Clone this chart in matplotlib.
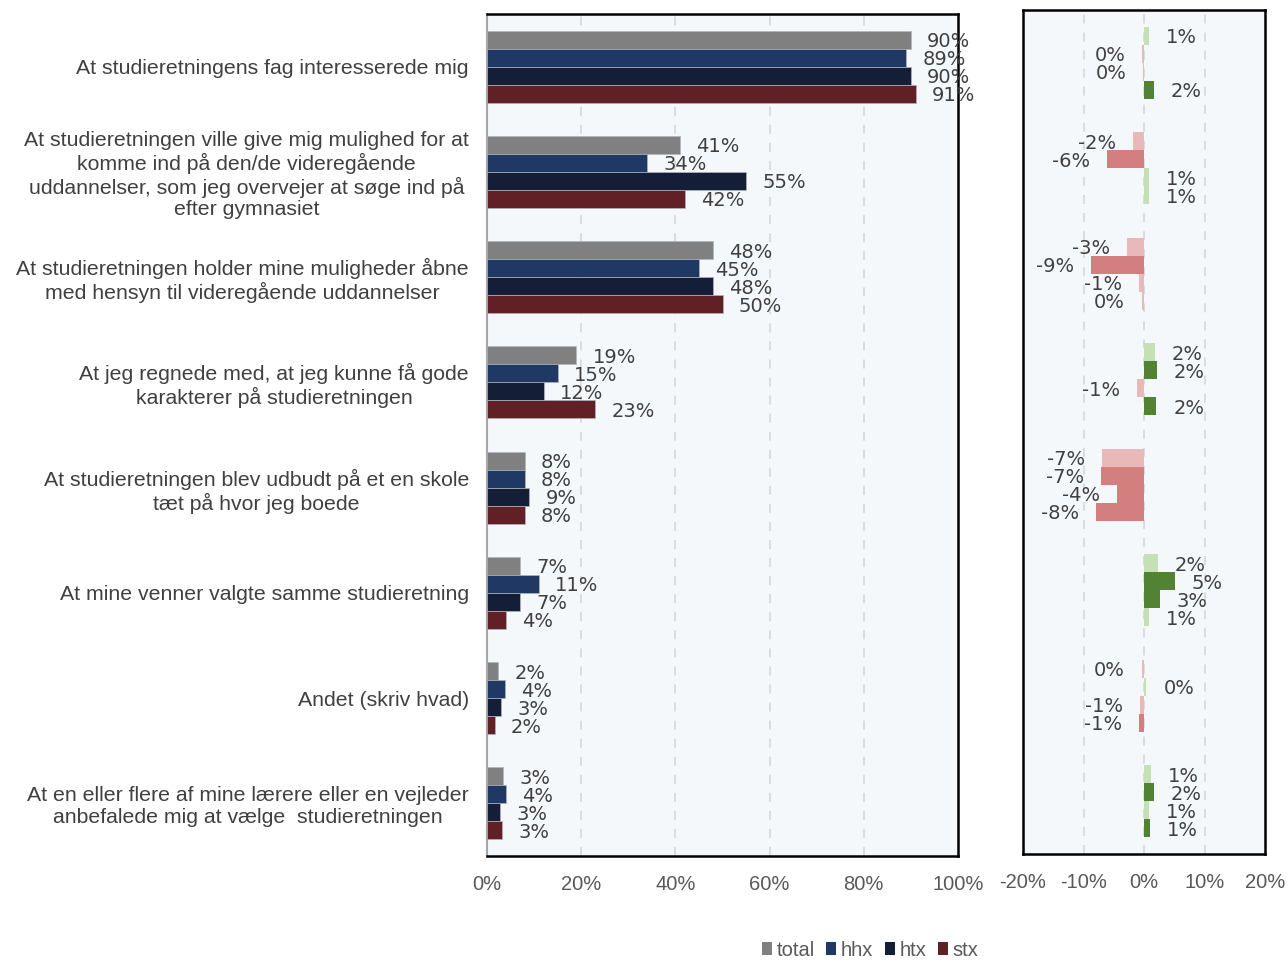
import matplotlib
matplotlib.use("Agg")
import matplotlib.pyplot as plt
from matplotlib.patches import Patch

# ---- data -------------------------------------------------------------
categories = [
    "At studieretningens fag interesserede mig",
    "At studieretningen ville give mig mulighed for at\nkomme ind på den/de videregående\nuddannelser, som jeg overvejer at søge ind på\nefter gymnasiet",
    "At studieretningen holder mine muligheder åbne\nmed hensyn til videregående uddannelser",
    "At jeg regnede med, at jeg kunne få gode\nkarakterer på studieretningen",
    "At studieretningen blev udbudt på et en skole\ntæt på hvor jeg boede",
    "At mine venner valgte samme studieretning",
    "Andet (skriv hvad)",
    "At en eller flere af mine lærere eller en vejleder\nanbefalede mig at vælge  studieretningen",
]
series = ["total", "hhx", "htx", "stx"]

total = [90, 41, 48, 19, 8, 7, 2.4, 3.4]
hhx = [89, 34, 45, 15, 8, 11, 3.8, 4.0]
htx = [90, 55, 48, 12, 9, 7, 3.0, 2.8]
stx = [91, 42, 50, 23, 8, 4, 1.7, 3.2]

# change in percentage points, one row per bar within a group
diff_1 = [0.8, -1.8, -2.8, 1.8, -7.0, 2.3, -0.4, 1.2]
diff_2 = [-0.3, -6.1, -8.8, 2.1, -7.1, 5.1, 0.4, 1.6]
diff_3 = [-0.1, 0.8, -0.8, -1.2, -4.4, 2.6, -0.7, 0.8]
diff_4 = [1.65, 0.8, -0.4, 2.0, -7.9, 0.8, -0.8, 1.0]

# significant changes are shown in the strong colour
sig_1 = [False, False, False, False, False, False, False, False]
sig_2 = [False, True, True, True, True, True, False, True]
sig_3 = [False, False, False, False, True, True, False, False]
sig_4 = [True, False, False, True, True, False, True, True]

left_ticks = [0, 20, 40, 60, 80, 100]
right_ticks = [-20, -10, 0, 10, 20]

# ---- style ------------------------------------------------------------
series_colors = ["#808080", "#203864", "#141E36", "#612026"]
pos_light, pos_dark = "#C5E0B4", "#548235"
neg_light, neg_dark = "#E8B9B8", "#D47F7F"
bg = "#F5F8FB"
grid_c = "#D9D9D9"
label_c = "#404040"
tick_c = "#595959"
value_size = 14

fig = plt.figure(figsize=(12.88, 9.61), dpi=100)
ax = fig.add_axes([0.3781, 0.1093, 0.3657, 0.8761])
ax2 = fig.add_axes([0.7943, 0.1113, 0.1879, 0.8783])

n = len(categories)
h = 0.171
offsets = [-1.5 * h, -0.5 * h, 0.5 * h, 1.5 * h]

# ---- left panel: shares per school type ------------------------------
values = [total, hhx, htx, stx]
for vals, off, col in zip(values, offsets, series_colors):
    ys = [i + off for i in range(n)]
    ax.barh(ys, vals, height=h, color=col, edgecolor="#B0B4BC", linewidth=0.5, zorder=3)
    for y, v in zip(ys, vals):
        ax.annotate(f"{round(v)}%", xy=(v, y), xytext=(16, -2),
                    textcoords="offset pixels", ha="left", va="center",
                    fontsize=value_size, color=label_c, family="DejaVu Sans", zorder=4)

ax.set_xlim(0, 100)
ax.set_ylim(n - 0.5, -0.5)
ax.set_facecolor(bg)
ax.set_xticks(left_ticks)
ax.set_xticklabels([f"{t}%" for t in left_ticks])
ax.set_yticks(range(n))
ax.set_yticklabels(categories, multialignment="center", linespacing=1.17)
ax.tick_params(axis="y", length=0, pad=13, labelsize=15.3, labelcolor=label_c)
ax.tick_params(axis="x", length=0, pad=14, labelsize=14.5, labelcolor=tick_c)
for t in ax.get_yticklabels() + ax.get_xticklabels():
    t.set_family("Liberation Sans")
for x in left_ticks[1:-1]:
    ax.axvline(x, color=grid_c, lw=1.3, ls=(0, (5, 5)), zorder=1)
for s in ["top", "right", "bottom"]:
    ax.spines[s].set_color("black")
    ax.spines[s].set_linewidth(1.8)
ax.spines["left"].set_color("#A6A6A6")
ax.spines["left"].set_linewidth(1.5)

# ---- right panel: changes ---------------------------------------------
diffs = [diff_1, diff_2, diff_3, diff_4]
sigs = [sig_1, sig_2, sig_3, sig_4]
for vals, sg, off in zip(diffs, sigs, offsets):
    ys = [i + off for i in range(n)]
    cols = [(pos_dark if s else pos_light) if v >= 0 else (neg_dark if s else neg_light)
            for v, s in zip(vals, sg)]
    ax2.barh(ys, vals, height=h, color=cols, linewidth=0, zorder=3)
    for y, v in zip(ys, vals):
        dx = 17 if v >= 0 else -17
        ax2.annotate(f"{round(v)}%", xy=(v, y), xytext=(dx, -2),
                     textcoords="offset pixels", ha="left" if v >= 0 else "right",
                     va="center", fontsize=value_size, color=label_c,
                     family="DejaVu Sans", zorder=4)

ax2.set_xlim(-20, 20)
ax2.set_ylim(n - 0.5, -0.5)
ax2.set_facecolor(bg)
ax2.set_xticks(right_ticks)
ax2.set_xticklabels([f"{t}%" for t in right_ticks])
ax2.set_yticks([])
ax2.tick_params(axis="x", length=0, pad=14, labelsize=14.5, labelcolor=tick_c)
for t in ax2.get_xticklabels():
    t.set_family("Liberation Sans")
for x in right_ticks[1:-1]:
    ax2.axvline(x, color=grid_c, lw=1.3, ls=(0, (5, 5)), zorder=1)
for s in ax2.spines.values():
    s.set_color("black")
    s.set_linewidth(1.8)

# ---- legend -----------------------------------------------------------
handles = [Patch(facecolor=c, edgecolor="none") for c in series_colors]
fig.legend(handles, series, loc="center", bbox_to_anchor=(0.6755, 0.0114),
           ncol=4, frameon=False, handlelength=0.5, handleheight=0.6,
           handletextpad=0.25, columnspacing=0.55,
           prop={"family": "Liberation Sans", "size": 14.5}, labelcolor=tick_c)

fig.savefig("out.png", dpi=100)
